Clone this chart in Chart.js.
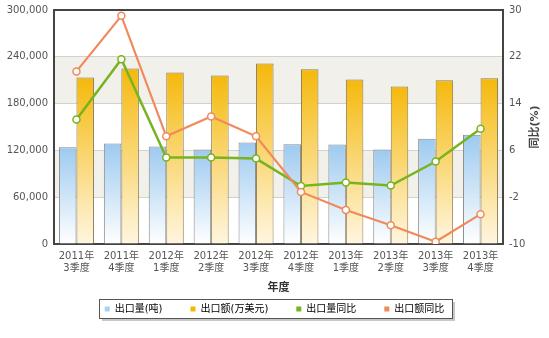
<!DOCTYPE html>
<html>
<head>
<meta charset="utf-8">
<script src="https://cdn.jsdelivr.net/npm/chart.js@4/dist/chart.umd.min.js"></script>
<style>
  html, body { margin: 0; padding: 0; background: #fff; }
  #wrap { width: 549px; height: 338px; }
</style>
</head>
<body>
<div id="wrap"><canvas id="mainChart"></canvas></div>
<script>
const quarters = [
  ['2011年', '3季度'], ['2011年', '4季度'], ['2012年', '1季度'], ['2012年', '2季度'],
  ['2012年', '3季度'], ['2012年', '4季度'], ['2013年', '1季度'], ['2013年', '2季度'],
  ['2013年', '3季度'], ['2013年', '4季度']
];
const volume = [124000, 129000, 125000, 121000, 130000, 128000, 127500, 121000, 135000, 140000];
const amount = [213500, 225000, 220000, 216000, 231500, 224000, 211000, 202000, 210000, 212500];
const volumeYoY = [11.3, 21.6, 4.8, 4.8, 4.6, -0.1, 0.5, 0.0, 4.1, 9.7];
const amountYoY = [19.5, 29.0, 8.4, 11.8, 8.4, -1.1, -4.2, -6.8, -9.6, -4.9];
const leftTicks = [0, 60000, 120000, 180000, 240000, 300000];
const rightTicks = [-10, -2, 6, 14, 22, 30];

const colBlue = '#a9d1f2';
const colGold = '#f4b800';
const colGreen = '#78b41e';
const colOrange = '#f08a5a';
const fontFam = '"DejaVu Sans", "Noto Sans CJK SC"';

function barFill(top, bottom) {
  return (c) => {
    const chart = c.chart;
    if (!chart.chartArea || c.parsed == null) return top;
    const y = chart.scales.y;
    const g = chart.ctx.createLinearGradient(0, y.getPixelForValue(c.parsed.y), 0, y.getPixelForValue(0));
    g.addColorStop(0, top);
    g.addColorStop(1, bottom);
    return g;
  };
}

function legendFrame(chart) {
  const boxes = chart.legend.legendHitBoxes;
  if (!boxes || !boxes.length) return null;
  const l = Math.round(Math.min(...boxes.map(b => b.left)) - 6);
  const r = Math.round(Math.max(...boxes.map(b => b.left + b.width)) + 8);
  const t = Math.round(boxes[0].top - 5);
  const h = Math.round(boxes[0].height + 9);
  return { l, r, t, h };
}

// alternating bands, legend frame, top frame line, right title
const extras = {
  id: 'extras',
  beforeDraw(chart) {
    const { ctx, chartArea: a, scales } = chart;
    ctx.save();
    ctx.fillStyle = '#f1f0ea';
    [[180000, 240000], [60000, 120000]].forEach(([lo, hi]) => {
      const y1 = scales.y.getPixelForValue(hi);
      const y2 = scales.y.getPixelForValue(lo);
      ctx.fillRect(a.left, y1, a.right - a.left, y2 - y1);
    });
    const f = legendFrame(chart);
    if (f) {
      ctx.fillStyle = 'rgba(0,0,0,0.22)';
      ctx.fillRect(f.l + 3, f.t + 3, f.r - f.l, f.h);
      ctx.fillStyle = '#fff';
      ctx.fillRect(f.l, f.t, f.r - f.l, f.h);
      ctx.strokeStyle = '#555';
      ctx.lineWidth = 1;
      ctx.strokeRect(f.l + 0.5, f.t + 0.5, f.r - f.l, f.h);
    }
    ctx.restore();
  },
  afterDraw(chart) {
    const { ctx, chartArea: a } = chart;
    ctx.save();
    ctx.strokeStyle = '#444';
    ctx.lineWidth = 2;
    ctx.beginPath();
    ctx.moveTo(a.left - 1, a.top);
    ctx.lineTo(a.right + 1, a.top);
    ctx.stroke();
    ctx.translate(535, (a.top + a.bottom) / 2);
    ctx.rotate(-Math.PI / 2);
    ctx.fillStyle = '#444';
    ctx.font = 'bold 11px ' + fontFam;
    ctx.textAlign = 'center';
    ctx.textBaseline = 'middle';
    ctx.fillText('同比(%)', 0, 0);
    ctx.restore();
  }
};

const legendColors = [colBlue, colGold, colGreen, colOrange];

const ctxMain = document.getElementById('mainChart').getContext('2d');

const mainChart = new Chart(ctxMain, {
  type: 'bar',
  data: {
    labels: quarters,
    datasets: [{
      label: '出口量(吨)',
      data: volume,
      yAxisID: 'y',
      backgroundColor: barFill('#9dcaf0', '#ffffff'),
      borderColor: '#888',
      borderWidth: 1,
      categoryPercentage: 0.78,
      barPercentage: 1,
      order: 2
    }, {
      label: '出口额(万美元)',
      data: amount,
      yAxisID: 'y',
      backgroundColor: barFill('#f5b90c', '#fff6e0'),
      borderColor: '#8a7a50',
      borderWidth: 1,
      categoryPercentage: 0.78,
      barPercentage: 1,
      order: 2
    }, {
      type: 'line',
      label: '出口量同比',
      data: volumeYoY,
      yAxisID: 'y1',
      borderColor: colGreen,
      borderWidth: 2.5,
      pointBackgroundColor: '#fff',
      pointBorderColor: colGreen,
      pointBorderWidth: 1.5,
      pointRadius: 3.5,
      tension: 0,
      order: 1
    }, {
      type: 'line',
      label: '出口额同比',
      data: amountYoY,
      yAxisID: 'y1',
      borderColor: colOrange,
      borderWidth: 2.2,
      pointBackgroundColor: '#fff',
      pointBorderColor: colOrange,
      pointBorderWidth: 1.5,
      pointRadius: 3.5,
      tension: 0,
      order: 0
    }]
  },
  options: {
    responsive: true,
    maintainAspectRatio: false,
    animation: false,
    layout: { padding: { top: 10, left: 0, right: 0, bottom: 14 } },
    plugins: {
      tooltip: { enabled: false },
      legend: {
        position: 'bottom',
        labels: {
          boxWidth: 5,
          boxHeight: 5,
          padding: 28,
          color: '#444',
          font: { size: 10, family: fontFam },
          generateLabels: (chart) => chart.data.datasets.map((ds, i) => ({
            text: ds.label,
            fillStyle: legendColors[i],
            strokeStyle: legendColors[i],
            lineWidth: 0,
            datasetIndex: i,
            hidden: false
          }))
        }
      }
    },
    scales: {
      x: {
        afterFit: (s) => { s.height = 32; },
        grid: { display: false, drawTicks: false },
        border: { color: '#444', width: 2 },
        ticks: {
          color: '#555',
          padding: 7,
          font: { size: 10, family: fontFam, lineHeight: 1.15 },
          maxRotation: 0
        },
        title: {
          display: true,
          text: '年度',
          color: '#333',
          padding: { top: 0, bottom: -18.5 },
          font: { size: 11, weight: 'bold', family: fontFam }
        }
      },
      y: {
        position: 'left',
        min: 0,
        max: 300000,
        afterBuildTicks: (s) => { s.ticks = leftTicks.map(v => ({ value: v })); },
        afterFit: (s) => { s.width = 54; s.paddingTop = 0; s.paddingBottom = 0; },
        grid: { color: '#d2d2ca', drawTicks: false },
        border: { color: '#444', width: 2 },
        ticks: {
          color: '#555',
          padding: 6,
          font: { size: 10, family: '"DejaVu Sans"' },
          callback: (v) => v.toLocaleString('en-US')
        }
      },
      y1: {
        position: 'right',
        min: -10,
        max: 30,
        afterBuildTicks: (s) => { s.ticks = rightTicks.map(v => ({ value: v })); },
        afterFit: (s) => { s.width = 46; s.paddingTop = 0; s.paddingBottom = 0; },
        grid: { display: false, drawTicks: false },
        border: { color: '#444', width: 2 },
        ticks: {
          color: '#555',
          padding: 6,
          font: { size: 10, family: '"DejaVu Sans"' }
        }
      }
    }
  },
  plugins: [extras]
});
</script>
</body>
</html>
